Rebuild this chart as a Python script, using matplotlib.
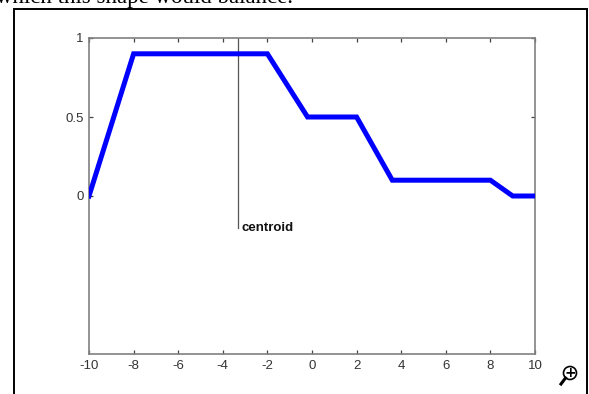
import matplotlib
matplotlib.use("Agg")
from matplotlib import pyplot as plt
from matplotlib.patches import Rectangle, Circle
from matplotlib.lines import Line2D

# aggregated membership curve
x_vals = [-10, -8, -2, -0.2, 2, 3.6, 8, 9, 10]
y_vals = [0, 0.9, 0.9, 0.5, 0.5, 0.1, 0.1, 0, 0]

centroid_x = -3.3
centroid_top = 1.0
centroid_bottom = -0.2
centroid_label = "centroid"

x_ticks = [-10, -8, -6, -4, -2, 0, 2, 4, 6, 8, 10]
y_ticks = [0, 0.5, 1]
y_tick_labels = ["0", "0.5", "1"]

caption = "which this shape would balance."

W, H = 589, 394
fig = plt.figure(figsize=(W / 100, H / 100), dpi=100)
fig.patch.set_facecolor("white")

ax = fig.add_axes([89 / W, 1 - 354 / H, (535 - 89) / W, (354 - 38) / H])
ax.plot(x_vals, y_vals, color="#0000ff", lw=3.6, solid_joinstyle="miter", zorder=3)
ax.plot([centroid_x, centroid_x], [centroid_bottom, centroid_top], color="#555555", lw=0.9)
ax.text(centroid_x + 0.15, centroid_bottom, centroid_label, fontsize=9.5, fontweight="bold",
        family="Liberation Sans", ha="left", va="center", color="#111111")

ax.set_xlim(-10, 10)
ax.set_ylim(-1, 1)
ax.set_xticks(x_ticks)
ax.set_xticklabels([str(t) for t in x_ticks])
ax.set_yticks(y_ticks)
ax.set_yticklabels(y_tick_labels)
ax.tick_params(direction="in", length=3, width=0.9, color="#444444", labelcolor="#333333",
               labelsize=9.5, top=True, right=True, pad=4)
for lab in ax.get_xticklabels() + ax.get_yticklabels():
    lab.set_family("Liberation Sans")
for sp in ax.spines.values():
    sp.set_color("#808080")
    sp.set_linewidth(1.2)

# outer frame of the screenshot
fig.add_artist(Rectangle((13.5 / W, -0.05), (587 - 13.5) / W, 1.05 - 8.5 / H,
                         transform=fig.transFigure, fill=False, edgecolor="black", lw=1.4))

# cut-off caption line at the very top
fig.text(-4 / W, 1 - 3 / H, caption, family="Liberation Serif", fontsize=16.5,
         ha="left", va="baseline", color="black")

# magnifier icon
cx, cy = 570 / W, 1 - 373 / H
fig.add_artist(Circle((570, H - 373), 6.5, transform=None, fill=False, edgecolor="black", lw=1.2))
fig.add_artist(Line2D([561, 565.5], [H - 384, H - 378], transform=None, color="black", lw=2.2))
fig.text(cx, cy, "+", fontsize=10, fontweight="bold", ha="center", va="center", color="black")

fig.savefig("out.png", dpi=100)
